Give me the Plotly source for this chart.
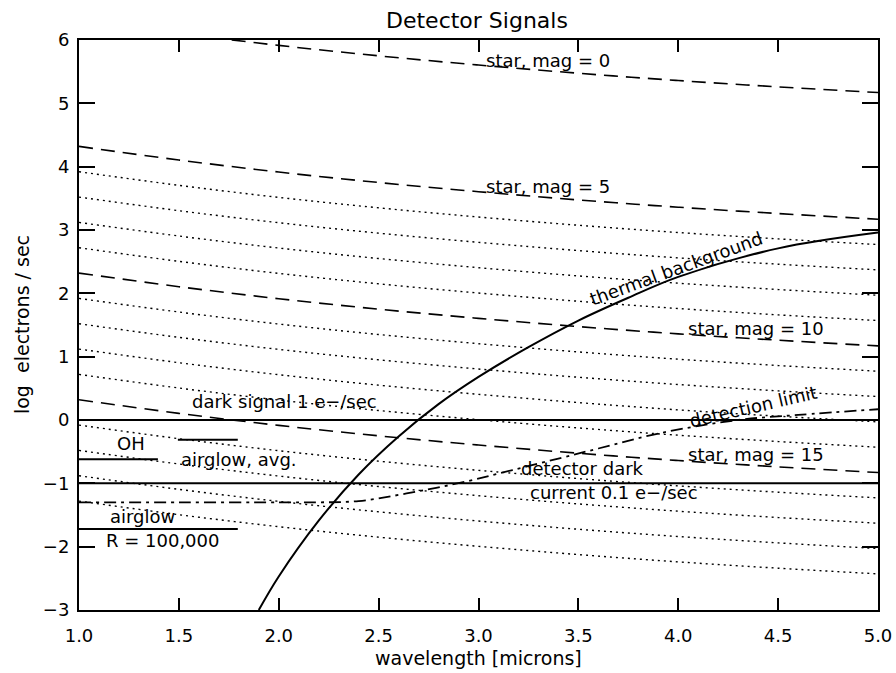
import plotly.graph_objects as go

# ---------------- data ----------------
wavelength = [1.0, 1.5, 2.0, 2.5, 3.0, 3.5, 4.0, 4.5, 5.0]

# log electrons/sec for stars of given magnitude (read at the wavelength grid)
star_mag0 = [6.32, 6.105, 5.915, 5.75, 5.605, 5.475, 5.36, 5.26, 5.17]
star_mag5 = [4.32, 4.105, 3.915, 3.75, 3.605, 3.475, 3.36, 3.26, 3.17]
star_mag6 = [3.92, 3.705, 3.515, 3.35, 3.205, 3.075, 2.96, 2.86, 2.77]
star_mag7 = [3.52, 3.305, 3.115, 2.95, 2.805, 2.675, 2.56, 2.46, 2.37]
star_mag8 = [3.12, 2.905, 2.715, 2.55, 2.405, 2.275, 2.16, 2.06, 1.97]
star_mag9 = [2.72, 2.505, 2.315, 2.15, 2.005, 1.875, 1.76, 1.66, 1.57]
star_mag10 = [2.32, 2.105, 1.915, 1.75, 1.605, 1.475, 1.36, 1.26, 1.17]
star_mag11 = [1.92, 1.705, 1.515, 1.35, 1.205, 1.075, 0.96, 0.86, 0.77]
star_mag12 = [1.52, 1.305, 1.115, 0.95, 0.805, 0.675, 0.56, 0.46, 0.37]
star_mag13 = [1.12, 0.905, 0.715, 0.55, 0.405, 0.275, 0.16, 0.06, -0.03]
star_mag14 = [0.72, 0.505, 0.315, 0.15, 0.005, -0.125, -0.24, -0.34, -0.43]
star_mag15 = [0.32, 0.105, -0.085, -0.25, -0.395, -0.525, -0.64, -0.74, -0.83]
star_mag16 = [-0.08, -0.295, -0.485, -0.65, -0.795, -0.925, -1.04, -1.14, -1.23]
star_mag17 = [-0.48, -0.695, -0.885, -1.05, -1.195, -1.325, -1.44, -1.54, -1.63]
star_mag18 = [-0.88, -1.095, -1.285, -1.45, -1.595, -1.725, -1.84, -1.94, -2.03]
star_mag19 = [-1.28, -1.495, -1.685, -1.85, -1.995, -2.125, -2.24, -2.34, -2.43]

thermal_x = [1.9, 2.0, 2.2, 2.4, 2.6, 2.8, 3.0, 3.25, 3.5, 3.75, 4.0, 4.5, 5.0]
thermal_y = [-3.0, -2.47, -1.59, -0.86, -0.26, 0.25, 0.68, 1.15, 1.57, 1.93, 2.26, 2.71, 2.96]

limit_x = [1.0, 1.5, 2.0, 2.2, 2.4, 2.64, 2.94, 3.17, 3.405, 3.6, 3.905, 4.3, 4.6, 5.0]
limit_y = [-1.30, -1.30, -1.30, -1.30, -1.28, -1.16, -0.97, -0.79, -0.605, -0.45, -0.21, 0.0, 0.08, 0.17]

dark_signal_x = [1.0, 5.0]
dark_signal_y = [0.0, 0.0]
detector_dark_x = [1.0, 5.0]
detector_dark_y = [-1.0, -1.0]

oh_x = [1.495, 1.795]
oh_y = [-0.31, -0.31]
airglow_avg_x = [1.0, 1.395]
airglow_avg_y = [-0.62, -0.62]
airglow_r_x = [1.0, 1.795]
airglow_r_y = [-1.72, -1.72]

x_ticks = [1.0, 1.5, 2.0, 2.5, 3.0, 3.5, 4.0, 4.5, 5.0]
x_tick_labels = ["1.0", "1.5", "2.0", "2.5", "3.0", "3.5", "4.0", "4.5", "5.0"]
y_ticks = [-3, -2, -1, 0, 1, 2, 3, 4, 5, 6]
y_tick_labels = ["\u22123", "\u22122", "\u22121", "0", "1", "2", "3", "4", "5", "6"]

# ---------------- figure ----------------
FONT = "DejaVu Sans"
fig = go.Figure()

dashed = [star_mag0, star_mag5, star_mag10, star_mag15]
dotted = [star_mag6, star_mag7, star_mag8, star_mag9, star_mag11, star_mag12,
          star_mag13, star_mag14, star_mag16, star_mag17, star_mag18, star_mag19]

for ys in dotted:
    fig.add_trace(go.Scatter(x=wavelength, y=ys, mode="lines", line_shape="spline",
                             line=dict(color="black", width=1.4, dash="2px,4px"),
                             hoverinfo="skip", showlegend=False))
for ys in dashed:
    fig.add_trace(go.Scatter(x=wavelength, y=ys, mode="lines", line_shape="spline",
                             line=dict(color="black", width=1.6, dash="14px,8px"),
                             hoverinfo="skip", showlegend=False))

fig.add_trace(go.Scatter(x=thermal_x, y=thermal_y, mode="lines", line_shape="spline",
                         line=dict(color="black", width=2), showlegend=False))
fig.add_trace(go.Scatter(x=limit_x, y=limit_y, mode="lines", line_shape="spline",
                         line=dict(color="black", width=1.8, dash="12px,5px,3px,5px"),
                         showlegend=False))
for xs, ys in [(dark_signal_x, dark_signal_y), (detector_dark_x, detector_dark_y),
               (oh_x, oh_y), (airglow_avg_x, airglow_avg_y), (airglow_r_x, airglow_r_y)]:
    fig.add_trace(go.Scatter(x=xs, y=ys, mode="lines",
                             line=dict(color="black", width=2), showlegend=False))

labels = [
    ("star, mag = 0", 3.35, 5.68, 0),
    ("star, mag = 5", 3.35, 3.68, 0),
    ("star, mag = 10", 4.39, 1.44, 0),
    ("star, mag = 15", 4.39, -0.55, 0),
    ("thermal background", 3.99, 2.39, -20),
    ("detection limit", 4.375, 0.22, -13),
    ("dark signal 1 e\u2212/sec", 2.03, 0.30, 0),
    ("OH", 1.26, -0.37, 0),
    ("airglow, avg.", 1.80, -0.62, 0),
    ("detector dark", 3.52, -0.77, 0),
    ("current 0.1 e\u2212/sec", 3.68, -1.15, 0),
    ("airglow", 1.32, -1.53, 0),
    ("R = 100,000", 1.42, -1.895, 0),
]
for text, x, y, ang in labels:
    fig.add_annotation(x=x, y=y, text=text, showarrow=False, textangle=ang,
                       font=dict(family=FONT, size=18, color="black"),
                       xanchor="center", yanchor="middle")

# titles
fig.add_annotation(xref="paper", yref="paper", x=0.4985, y=1.035, text="Detector Signals",
                   showarrow=False, font=dict(family=FONT, size=22, color="black"),
                   xanchor="center", yanchor="middle")
fig.add_annotation(xref="paper", yref="paper", x=0.5, y=-0.0842, text="wavelength [microns]",
                   showarrow=False, font=dict(family=FONT, size=19, color="black"),
                   xanchor="center", yanchor="middle")
fig.add_annotation(xref="paper", yref="paper", x=-0.0713, y=0.5, text="log  electrons / sec",
                   showarrow=False, textangle=-90, font=dict(family=FONT, size=19, color="black"),
                   xanchor="center", yanchor="middle")

fig.update_xaxes(range=[1.0, 5.0], tickmode="array", tickvals=x_ticks, ticktext=x_tick_labels,
                 ticks="inside", ticklen=12, tickwidth=1.5, tickcolor="black",
                 showline=True, linecolor="black", linewidth=2, mirror="ticks",
                 showgrid=False, zeroline=False, ticklabelstandoff=8, automargin=False,
                 tickfont=dict(family=FONT, size=18, color="black"))
fig.update_yaxes(range=[-3, 6], tickmode="array", tickvals=y_ticks, ticktext=y_tick_labels,
                 ticks="inside", ticklen=16, tickwidth=1.5, tickcolor="black",
                 showline=True, linecolor="black", linewidth=2, mirror="ticks",
                 showgrid=False, zeroline=False, ticklabelstandoff=4, automargin=False,
                 tickfont=dict(family=FONT, size=18, color="black"))

fig.update_layout(width=896, height=673, margin=dict(l=79, r=18, t=40, b=63),
                  plot_bgcolor="white", paper_bgcolor="white", showlegend=False)

fig.write_html("out.html", config={"displayModeBar": False},
               post_script="document.body.style.margin='0';document.body.style.overflow='hidden';")
